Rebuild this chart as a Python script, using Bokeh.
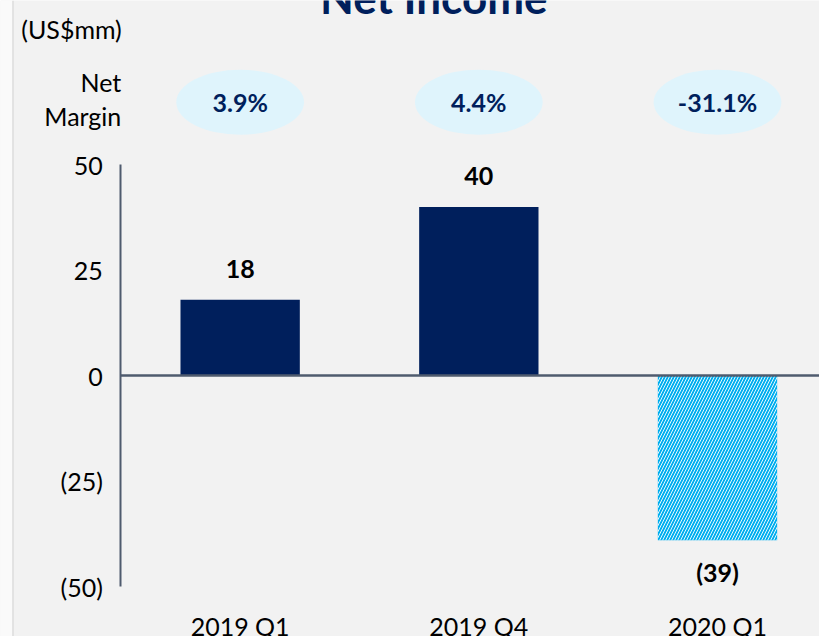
from bokeh.plotting import figure
from bokeh.models import (Range1d, FixedTicker, LinearAxis, ColumnDataSource,
                          BoxAnnotation, Span)
from bokeh.core.properties import value
from bokeh.embed import file_html
from bokeh.resources import INLINE
import numpy as np

# ---- data ----
categories = ["2019 Q1", "2019 Q4", "2020 Q1"]
net_income = [18, 40, -39]
value_labels = ["18", "40", "(39)"]
net_margin = ["3.9%", "4.4%", "-31.1%"]
y_ticks = [-50, -25, 0, 25, 50]
y_tick_labels = ["(50)", "(25)", "0", "25", "50"]

# ---- style / layout ----
BG = "#f2f2f2"
NAVY = "#001f5c"
AXIS = "#4f5b6e"
FONT = "Lato"

W, H = 819, 636
SX, SY = W / 827.0, H / 644.0
AXIS_PX = 121.5 * SX          # canvas x of the value axis
PX_PER_X = 241.0 * SX
ZERO_PX = 380.0 * SY          # canvas y of zero
PX_PER_Y = 4.27 * SY


def dx(px):  # reference x -> data x
    return (px * SX - AXIS_PX) / PX_PER_X


def dy(py):  # reference y -> data y
    return (ZERO_PX - py * SY) / PX_PER_Y


x_start, x_end = -AXIS_PX / PX_PER_X, (W - AXIS_PX) / PX_PER_X
y_start, y_end = -(H - ZERO_PX) / PX_PER_Y, ZERO_PX / PX_PER_Y

p = figure(width=W, height=H, output_backend="svg", toolbar_location=None,
           x_range=Range1d(x_start, x_end), y_range=Range1d(y_start, y_end),
           x_axis_location=None, y_axis_location=None,
           min_border_left=0, min_border_right=0,
           min_border_top=0, min_border_bottom=0)
p.background_fill_color = BG
p.border_fill_color = BG
p.outline_line_color = None
p.grid.visible = False

# left slide edge
p.add_layout(BoxAnnotation(left=0, right=12, left_units="screen", right_units="screen",
                           fill_color="#fafafa", fill_alpha=1, line_color=None))
p.add_layout(Span(location=12.5, location_units="screen", dimension="height",
                  line_color="#dddddd", line_width=1.5))

xs = np.arange(len(categories)) + 0.5
colors = [NAVY, NAVY, "#00aeef"]
hatches = [" ", " ", "/"]
src = ColumnDataSource(dict(x=xs, top=net_income, color=colors, hatch=hatches,
                            label=value_labels, cat=categories, margin=net_margin))

p.vbar(x="x", top="top", bottom=0, width=0.5, source=src, fill_color="color",
       line_color=None, hatch_pattern="hatch", hatch_color="white",
       hatch_scale=6, hatch_weight=1.0, hatch_alpha=0.9)

# value axis
yax = LinearAxis(fixed_location=0, ticker=FixedTicker(ticks=y_ticks))
yax.major_label_overrides = {t: l for t, l in zip(y_ticks, y_tick_labels)}
yax.bounds = (-50, 50)
yax.axis_line_color = AXIS
yax.axis_line_width = 2
yax.major_tick_line_color = None
yax.minor_tick_line_color = None
yax.major_tick_in = 0
yax.major_tick_out = 0
yax.major_label_standoff = 18
yax.major_label_text_font = FONT
yax.major_label_text_font_size = "25px"
yax.major_label_text_color = "black"
p.add_layout(yax, "left")

# zero line (category axis line)
zax = LinearAxis(fixed_location=0, ticker=FixedTicker(ticks=[]))
zax.bounds = (0, x_end)
zax.axis_line_color = AXIS
zax.axis_line_width = 2.5
zax.major_tick_line_color = None
zax.minor_tick_line_color = None
zax.major_label_text_font_size = "0px"
p.add_layout(zax, "below")

# category labels
cax = LinearAxis(fixed_location=-50, ticker=FixedTicker(ticks=list(xs)))
cax.major_label_overrides = {float(x): c for x, c in zip(xs, categories)}
cax.axis_line_color = None
cax.major_tick_line_color = None
cax.minor_tick_line_color = None
cax.major_tick_in = 0
cax.major_tick_out = 0
cax.major_label_standoff = 24
cax.major_label_text_font = FONT
cax.major_label_text_font_size = "25px"
cax.major_label_text_color = "black"
p.add_layout(cax, "below")

# value labels
src.data["yoff"] = [-31 if v >= 0 else 32 for v in net_income]
p.text(x="x", y="top", text="label", source=src, y_offset="yoff",
       text_align="center", text_baseline="middle", text_font=value(FONT),
       text_font_style="bold", text_font_size="25px", text_color="black")

# net margin bubbles
MARGIN_Y = dy(103)
p.ellipse(x="x", y=MARGIN_Y, width=129 * SX, height=66 * SY, width_units="screen",
          height_units="screen", source=src, fill_color="#dff4fc", line_color=None)
p.text(x="x", y=MARGIN_Y, text="margin", source=src, text_align="center",
       text_baseline="middle", text_font=value(FONT), text_font_style="bold",
       text_font_size="25px", text_color=NAVY)


def txt(text, x, y, align="left", size="25px", style="normal", color="black",
        baseline="middle"):
    p.text(x=[x], y=[y], text=[text], text_align=align, text_baseline=baseline,
           text_font=value(FONT), text_font_size=size, text_font_style=style,
           text_color=color)


txt("Net", dx(122), dy(83), align="right")
txt("Margin", dx(122), dy(117), align="right")
txt("(US$mm)", dx(21), dy(29))
txt("Net Income", dx(437.5), dy(-4), align="center", size="44px", style="bold",
    color=NAVY, baseline="alphabetic")

open("out.html", "w").write(file_html(p, INLINE))
